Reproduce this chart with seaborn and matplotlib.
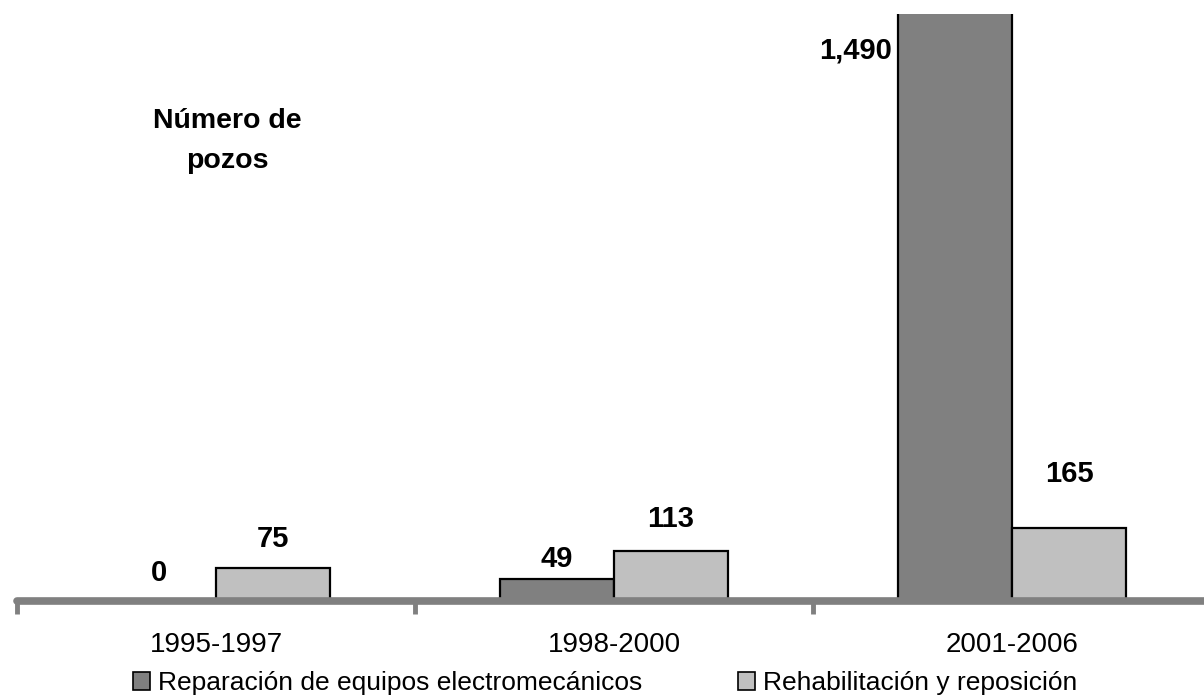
import pandas as pd
import seaborn as sns
import matplotlib.pyplot as plt
from matplotlib.patches import Patch

# Data
periodos = ["1995-1997", "1998-2000", "2001-2006"]
reparacion = [0, 49, 1490]
rehabilitacion = [75, 113, 165]
series = ["Reparación de equipos electromecánicos", "Rehabilitación y reposición"]
colores = ["#808080", "#c0c0c0"]

df = pd.DataFrame({
    "periodo": periodos * 2,
    "pozos": reparacion + rehabilitacion,
    "tipo": [series[0]] * 3 + [series[1]] * 3,
})

sns.set_style("white")
plt.rcParams["font.family"] = ["Liberation Sans", "DejaVu Sans"]
plt.rcParams["text.color"] = "black"
plt.rcParams["xtick.color"] = "black"
plt.rcParams["xtick.labelcolor"] = "black"

fig = plt.figure(figsize=(12.04, 6.95), dpi=100)
ax = fig.add_axes([17 / 1204, 94 / 695, 1194 / 1204, 587 / 695])

sns.barplot(data=df, x="periodo", y="pozos", hue="tipo", hue_order=series,
            palette=colores, width=0.573, gap=0, edgecolor="black",
            linewidth=1.6, saturation=1, legend=False, ax=ax)

ax.set_xlim(-0.5, 2.5)
ax.set_ylim(0, 1334)
ax.set_xlabel("")
ax.set_ylabel("")
ax.set_yticks([])
for s in ["left", "right", "top"]:
    ax.spines[s].set_visible(False)
ax.spines["bottom"].set_color("#808080")
ax.spines["bottom"].set_linewidth(5.5)
ax.spines["bottom"].set_capstyle("round")
ax.spines["bottom"].set_zorder(5)

ax.set_xticks([-0.5, 0.5, 1.5, 2.5], minor=True)
ax.tick_params(axis="x", which="minor", bottom=True, length=9, width=3.5,
               color="#808080", direction="out")
ax.tick_params(axis="x", which="major", bottom=True, length=0, pad=22,
               labelsize=20, labelcolor="black")

# value labels (offsets in points above the bar top)
bw = 0.573 / 2
offsets = {(0, 0): 20, (1, 0): 21, (0, 1): 15, (1, 1): 23, (0, 2): 0, (1, 2): 39}
for j, vals in enumerate([reparacion, rehabilitacion]):
    for i, v in enumerate(vals):
        xc = i + (j - 0.5) * bw
        if v > 1334:
            ax.annotate(f"{v:,}", xy=(i - bw, 1334), xytext=(-4, -26),
                        textcoords="offset points", ha="right", va="center",
                        fontsize=21, fontweight="bold", color="black",
                        annotation_clip=False)
        else:
            ax.annotate(f"{v:,}", xy=(xc, v), xytext=(0, offsets[(j, i)]),
                        textcoords="offset points", ha="center", va="center",
                        fontsize=21, fontweight="bold", color="black")

fig.text(227 / 1204, 1 - 141 / 695, "Número de\npozos", ha="center", va="center",
         fontsize=20.5, fontweight="bold", linespacing=1.75, color="black")

handles = [Patch(facecolor=c, edgecolor="black", linewidth=1.2) for c in colores]
fig.legend(handles, series, loc="center", bbox_to_anchor=(605 / 1204, 1 - 683 / 695),
           ncol=2, frameon=False, fontsize=19, handlelength=0.65, handleheight=0.65,
           handletextpad=0.3, columnspacing=3.6, borderpad=0)

fig.savefig("out.png", dpi=100)
